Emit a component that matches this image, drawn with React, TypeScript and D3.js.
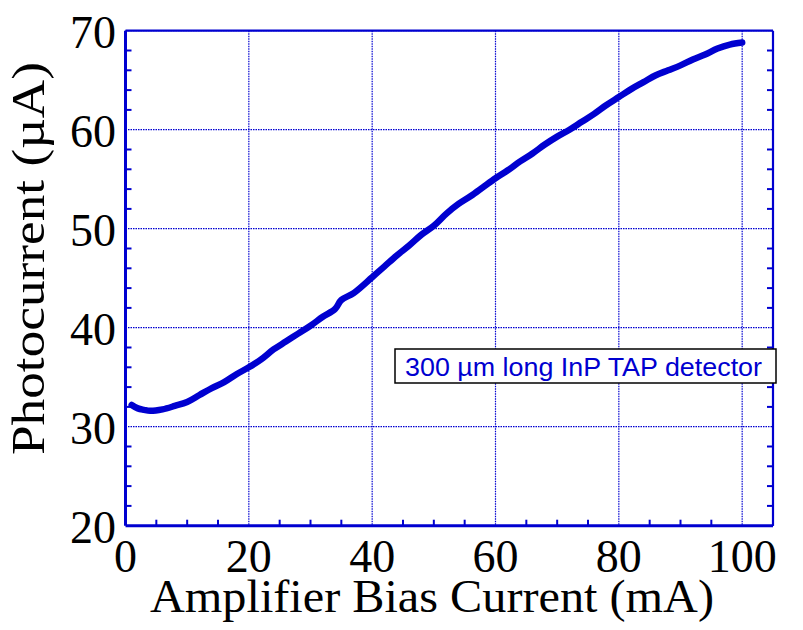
import React from "react";
import * as d3 from "d3";

const biasCurrent = [1, 2, 3, 4, 6, 8, 10, 12, 14, 16, 18, 20, 22, 24, 26, 28, 30, 32, 34, 35, 37, 40, 42, 44, 46, 48, 50, 52, 54, 56, 58, 60, 62, 64, 66, 68, 70, 72, 74, 76, 78, 80, 82, 84, 86, 88, 90, 92, 94, 96, 98, 100];
const photocurrent = [32.2, 31.85, 31.7, 31.6, 31.75, 32.1, 32.5, 33.2, 33.9, 34.5, 35.3, 36.0, 36.8, 37.8, 38.6, 39.4, 40.2, 41.1, 41.9, 42.8, 43.5, 45.1, 46.2, 47.3, 48.3, 49.4, 50.3, 51.5, 52.5, 53.3, 54.2, 55.1, 55.9, 56.8, 57.6, 58.5, 59.3, 60.0, 60.8, 61.6, 62.5, 63.3, 64.1, 64.8, 65.5, 66.0, 66.5, 67.1, 67.6, 68.2, 68.6, 68.8];
const xTicks = [0, 20, 40, 60, 80, 100];
const yTicks = [20, 30, 40, 50, 60, 70];
const xMinor = [5, 10, 15, 25, 30, 35, 45, 50, 55, 65, 70, 75, 85, 90, 95, 105];
const yMinor = [22, 24, 26, 28, 32, 34, 36, 38, 42, 44, 46, 48, 52, 54, 56, 58, 62, 64, 66, 68];
const xTitle = "Amplifier Bias Current (mA)";
const yTitle = "Photocurrent (µA)";
const legendText = "300 µm long InP TAP detector";

const BLUE = "#0000d0";

export default function App() {
  const left = 125.5, right = 773, top = 30.7, bottom = 525.7;
  const x = d3.scaleLinear().domain([0, 105]).range([left, right]);
  const y = d3.scaleLinear().domain([20, 70]).range([bottom, top]);
  const pts = biasCurrent.map((v, i) => [v, photocurrent[i]] as [number, number]);
  const line = d3.line<[number, number]>().x(d => x(d[0])).y(d => y(d[1])).curve(d3.curveCatmullRom);
  const serif = "'Liberation Serif', 'Times New Roman', serif";
  return (
    <svg width={803} height={630} style={{ position: "absolute", left: 0, top: 0 }}>
      <rect x={0} y={0} width={803} height={630} fill="white" />
      {xTicks.slice(1).map(t => (
        <line key={"gx" + t} x1={x(t)} x2={x(t)} y1={top} y2={bottom} stroke={BLUE} strokeWidth={1.2} strokeDasharray="1.5,1" />
      ))}
      {yTicks.slice(1).map(t => (
        <line key={"gy" + t} x1={left} x2={right} y1={y(t)} y2={y(t)} stroke={BLUE} strokeWidth={1.2} strokeDasharray="1.5,1" />
      ))}
      {xMinor.map(t => (
        <line key={"mx" + t} x1={x(t)} x2={x(t)} y1={bottom} y2={bottom - 6} stroke={BLUE} strokeWidth={2} />
      ))}
      {yMinor.map(t => (
        <g key={"my" + t}>
          <line x1={left} x2={left + 6} y1={y(t)} y2={y(t)} stroke={BLUE} strokeWidth={2} />
          <line x1={right} x2={right - 6} y1={y(t)} y2={y(t)} stroke={BLUE} strokeWidth={2} />
        </g>
      ))}
      <line x1={left} x2={left} y1={top} y2={bottom} stroke={BLUE} strokeWidth={3} />
      <line x1={left} x2={right} y1={bottom} y2={bottom} stroke={BLUE} strokeWidth={3} />
      <line x1={right} x2={right} y1={top} y2={bottom} stroke={BLUE} strokeWidth={2.2} />
      <line x1={left} x2={right} y1={top} y2={top} stroke={BLUE} strokeWidth={2.2} />
      <path d={line(pts) || ""} fill="none" stroke={BLUE} strokeWidth={6.5} strokeLinejoin="round" strokeLinecap="round" />
      <rect x={395} y={349} width={381} height={34} fill="white" stroke="black" strokeWidth={1.5} />
      <text x={405} y={376} fontFamily="'Liberation Sans', Arial, sans-serif" fontSize={25} fill={BLUE} textLength={357} lengthAdjust="spacingAndGlyphs">{legendText}</text>
      {yTicks.map(t => (
        <text key={"ty" + t} x={116} y={y(t) + 17} textAnchor="end" fontFamily={serif} fontSize={46} fill="black">{t}</text>
      ))}
      {xTicks.map(t => (
        <text key={"tx" + t} x={x(t)} y={572} textAnchor="middle" fontFamily={serif} fontSize={46} fill="black">{t}</text>
      ))}
      <text x={150} y={612} fontFamily={serif} fontSize={47} fill="black" textLength={564} lengthAdjust="spacingAndGlyphs">{xTitle}</text>
      <text transform={`translate(44, 455) rotate(-90)`} fontFamily={serif} fontSize={46} fill="black" textLength={393} lengthAdjust="spacingAndGlyphs">{yTitle}</text>
    </svg>
  );
}
